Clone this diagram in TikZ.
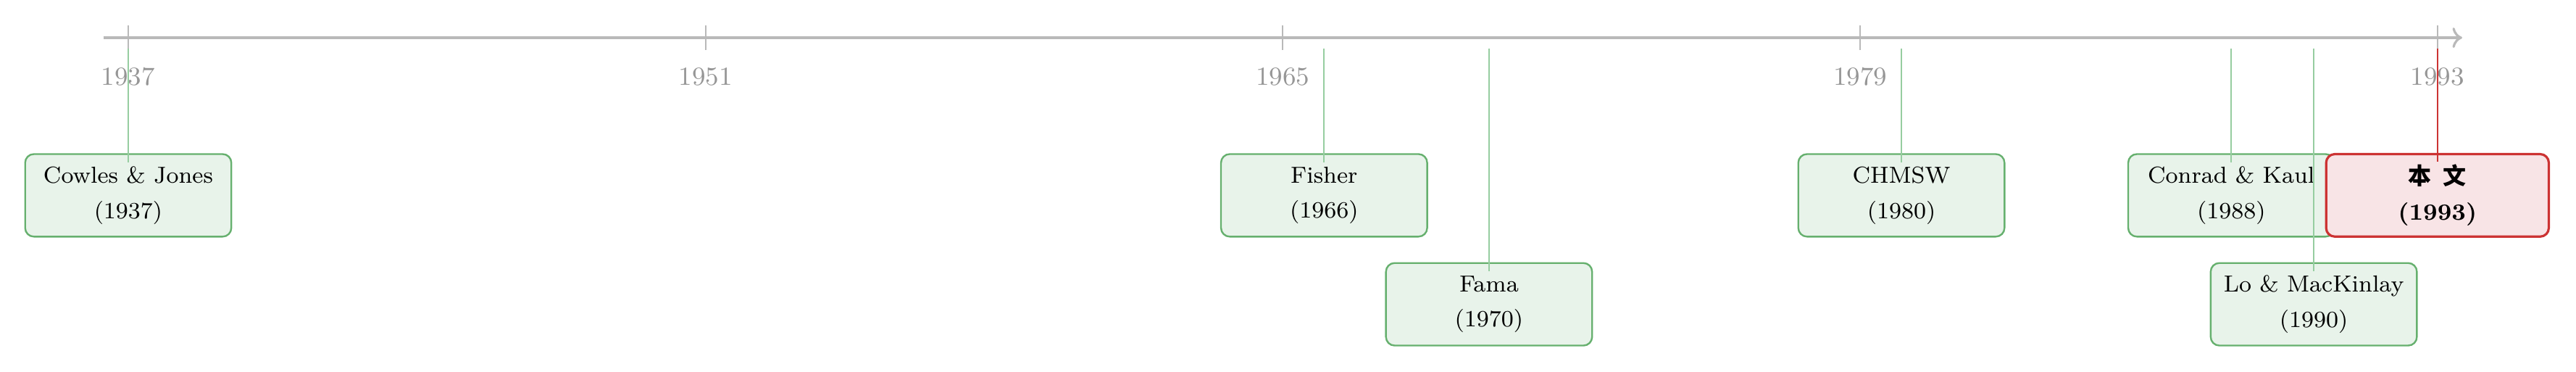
\documentclass[tikz,border=0pt]{standalone}
\usepackage{fontspec}
\usepackage{xcolor}
\usepackage{tikz}
\usetikzlibrary{arrows.meta, positioning, calc}
\newfontfamily\cjk{Noto Sans CJK SC}
\definecolor{axisgray}{RGB}{185, 185, 185}
\definecolor{tickgray}{RGB}{185, 185, 185}
\definecolor{labelgray}{RGB}{150, 150, 150}
\definecolor{pastgreen}{RGB}{102, 176, 110}
\definecolor{pastfill}{RGB}{232, 243, 234}
\definecolor{pastline}{RGB}{150, 205, 160}
\definecolor{oursred}{RGB}{204, 51, 51}
\definecolor{oursfill}{RGB}{248, 228, 230}
\tikzstyle{axisline} = [->, thick, draw=axisgray]
\tikzstyle{tickmark} = [line width=0.5pt, draw=tickgray]
\tikzstyle{yearlbl} = [font=\small, text=labelgray]
\tikzstyle{pastbox} = [draw=pastgreen, fill=pastfill, rounded corners=3pt, semithick, minimum width=2.5cm, minimum height=1cm, align=center, font=\footnotesize]
\tikzstyle{oursbox} = [draw=oursred, fill=oursfill, rounded corners=3pt, thick, minimum width=2.7cm, minimum height=1cm, align=center, font=\footnotesize\bfseries]
\tikzstyle{pastlink} = [line width=0.45pt, draw=pastline]
\tikzstyle{ourslink} = [line width=0.5pt, draw=oursred]

\begin{document}
\begin{tikzpicture}
    \useasboundingbox (-1.555, 0.457) rectangle (29.68, -4.042);

    % Time axis
    \coordinate (axstart) at (-0.3, 0);
    \coordinate (axend) at (28.3, 0);
    \draw[axisline] (axstart) -- (axend);
    \foreach \y in {1937,1951,...,1993} {
        \draw[tickmark] ({(\y-1937)*0.5}, 0.15) -- ++(0, -0.3);
        \node[yearlbl] (lbl\y) at ({(\y-1937)*0.5}, -0.47) {\y};
    }

    % Earlier studies
    \foreach \yr/\row/\nm/\who in {1937/1/cowles/Cowles \& Jones, 1966/1/fisher/Fisher, 1970/2/fama/Fama, 1980/1/chmsw/CHMSW, 1988/1/conrad/Conrad \& Kaul, 1990/2/lomac/Lo \& MacKinlay} {
        \node[pastbox] (\nm) at ({(\yr-1937)*0.5}, {-1.91-(\row-1)*1.32}) {\who\\[2.7pt](\yr)};
        \coordinate (t\nm) at ({(\yr-1937)*0.5}, -0.13);
        \draw[pastlink] (t\nm) -- ([yshift=-0.11cm]\nm.north);
    }

    % This paper
    \node[oursbox] (ours) at (28, -1.91) {{\cjk 本\hspace{4pt}文}\\[2.7pt](1993)};
    \coordinate (tours) at (28, -0.13);
    \draw[ourslink] (tours) -- ([yshift=-0.11cm]ours.north);
\end{tikzpicture}
\end{document}
